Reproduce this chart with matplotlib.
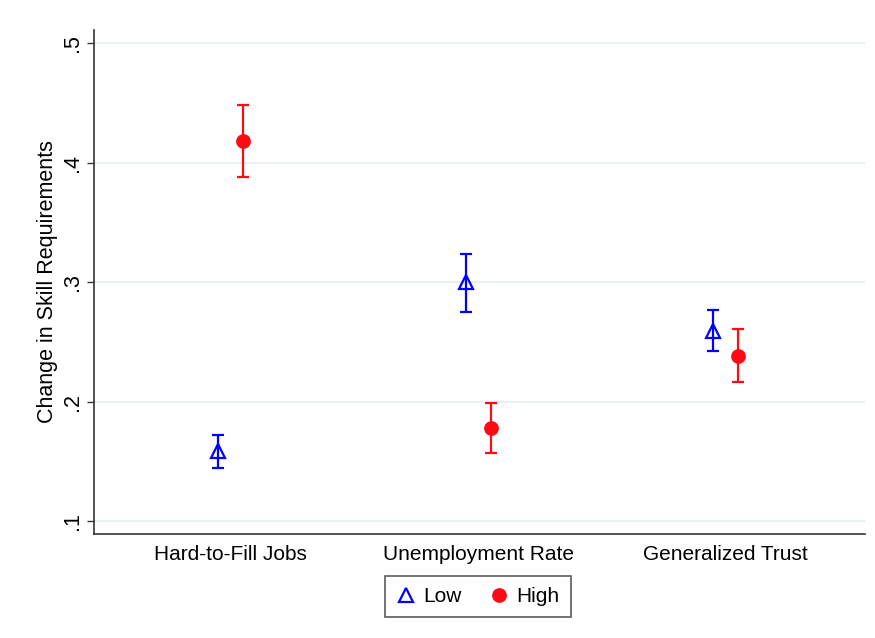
import matplotlib
matplotlib.use("Agg")
import matplotlib.pyplot as plt
import numpy as np

plt.rcParams['font.family'] = ['Liberation Sans', 'DejaVu Sans']

categories = ["Hard-to-Fill Jobs", "Unemployment Rate", "Generalized Trust"]
series_names = ["Low", "High"]
low_est = [0.1587, 0.3004, 0.2594]
low_lo = [0.1443, 0.2753, 0.2424]
low_hi = [0.1721, 0.3236, 0.2767]
high_est = [0.4184, 0.1782, 0.2385]
high_lo = [0.3883, 0.1573, 0.2162]
high_hi = [0.4483, 0.1989, 0.2608]
yticks = [0.1, 0.2, 0.3, 0.4, 0.5]
ytick_labels = [".1", ".2", ".3", ".4", ".5"]

fig = plt.figure(figsize=(8.75, 6.38), dpi=100)
ax = fig.add_axes([94/875, 1-534/638, (865-94)/875, (534-30)/638])

x = np.arange(1, len(categories) + 1)
off = 12.5/247.5

def draw(xs, est, lo, hi, color, marker, mfc, label):
    est = np.array(est); lo = np.array(lo); hi = np.array(hi)
    ax.errorbar(xs, est, yerr=[est - lo, hi - est], fmt='none', ecolor=color,
                elinewidth=1.6, capsize=4.3, capthick=1.6, zorder=3)
    ax.plot(xs, est, linestyle='none', marker=marker, markersize=9 if marker == 'o' else 10,
            markerfacecolor=mfc, markeredgecolor=color, markeredgewidth=1.6,
            label=label, zorder=4)

draw(x - off, low_est, low_lo, low_hi, 'blue', '^', 'none', series_names[0])
draw(x + off, high_est, high_lo, high_hi, '#ff0a14', 'o', '#ff0a14', series_names[1])

ax.set_xlim(0.448, 3.564)
ax.set_ylim(0.0893, 0.511)
ax.set_xticks(x)
ax.set_xticklabels(categories, fontsize=15)
ax.tick_params(axis='x', length=0, pad=8)
ax.set_yticks(yticks)
ax.set_yticklabels(ytick_labels, fontsize=15.5, rotation=90, va='center')
ax.tick_params(axis='y', length=5, width=1, color='#333333', pad=3)
ax.set_ylabel("Change in Skill Requirements", fontsize=15.5, labelpad=3)

ax.grid(axis='y', color='#e6eeee', linewidth=1.2, zorder=0)
ax.set_axisbelow(True)
for s in ['top', 'right']:
    ax.spines[s].set_visible(False)
for s in ['left', 'bottom']:
    ax.spines[s].set_color('#333333')
    ax.spines[s].set_linewidth(1.2)

leg = fig.legend(loc='center', bbox_to_anchor=(478/875, 1-596.5/638), ncol=2,
                 fontsize=15, frameon=True, fancybox=False, edgecolor='#333333',
                 handletextpad=0.4, columnspacing=1.3, borderpad=0.55, handlelength=0.9)
leg.get_frame().set_linewidth(1.2)

fig.savefig("out.png", dpi=100)
